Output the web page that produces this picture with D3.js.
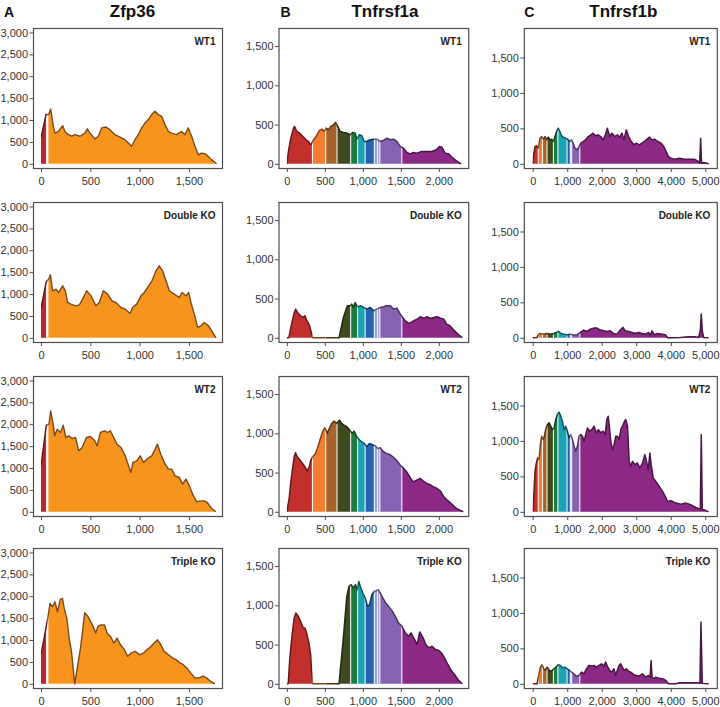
<!DOCTYPE html>
<html><head><meta charset="utf-8">
<script src="https://cdn.jsdelivr.net/npm/d3@7"></script>
<style>body{margin:0;background:#fff} svg{display:block} text{font-family:"Liberation Sans",Arial,sans-serif}</style>
</head><body><svg id="c" width="720" height="707"></svg>
<script>
// ---------- data ----------
const genes = ["Zfp36", "Tnfrsf1a", "Tnfrsf1b"];
const letters = ["A", "B", "C"];
const samples = ["WT1", "Double KO", "WT2", "Triple KO"];

const yTicksA = [0, 500, 1000, 1500, 2000, 2500, 3000];
const yTicksB = [0, 500, 1000, 1500];
const yTicksC = [0, 500, 1000, 1500];
const xTicksA = [0, 500, 1000, 1500];
const xTicksB = [0, 500, 1000, 1500, 2000];
const xTicksC = [0, 1000, 2000, 3000, 4000, 5000];

// exon boundaries (transcript position) and exon colours
const exonsA = [0, 63, 1800];
const exonColorsA = ["#b3292b", "#f7941d"];
const exonsB = [0, 337, 511, 660, 840, 932, 1030, 1151, 1195, 1224, 1513, 2400];
const exonColorsB = ["#c1302d", "#f37e2f", "#a6632b", "#3e4b1f", "#1f7b3d", "#19a3b3", "#2563b0", "#89a4d6", "#9d8dc8", "#8663b2", "#8b2984"];
const exonsC = [0, 160, 285, 415, 600, 730, 995, 1090, 1130, 1365, 5200];
const exonColorsC = ["#c1302d", "#f37e2f", "#a6632b", "#3e4b1f", "#1f7b3d", "#19a3b3", "#2563b0", "#89a4d6", "#8663b2", "#8b2984"];

// coverage profiles [position, reads]
const zfp36WT1 = [[0,590],[50,1125],[78,1125],[98,1255],[125,857],[142,700],[176,740],[220,870],[243,740],[277,665],[311,630],[345,665],[395,630],[446,700],[470,800],[497,700],[547,565],[581,630],[615,820],[659,840],[699,780],[750,665],[801,610],[851,550],[885,475],[919,400],[953,550],[986,665],[1020,820],[1054,930],[1088,1010],[1122,1125],[1155,1200],[1189,1125],[1223,1085],[1257,895],[1291,740],[1324,700],[1375,665],[1426,740],[1459,665],[1493,820],[1527,630],[1561,400],[1595,205],[1628,245],[1662,230],[1696,170],[1730,90],[1780,0]];
const zfp36DKO = [[0,678],[54,1287],[78,1340],[95,1439],[118,1074],[152,1112],[179,1036],[220,1188],[247,1074],[270,807],[304,769],[348,731],[389,754],[422,883],[463,1074],[507,959],[557,731],[591,807],[632,1074],[676,997],[720,845],[760,807],[811,693],[855,655],[902,556],[929,693],[970,769],[1014,959],[1047,1036],[1081,1150],[1125,1302],[1166,1530],[1199,1645],[1233,1530],[1267,1302],[1301,1074],[1351,997],[1402,921],[1429,1036],[1470,959],[1497,1036],[1520,807],[1554,541],[1588,236],[1622,274],[1655,350],[1699,274],[1740,122],[1774,0]];
const zfp36WT2 = [[0,1050],[54,1980],[81,2000],[98,2307],[124,2000],[138,1736],[165,1888],[198,1812],[225,1980],[252,1698],[283,1736],[316,1675],[350,1698],[383,1393],[417,1470],[461,1698],[501,1721],[545,1622],[568,1508],[602,1812],[642,1850],[676,1812],[703,1850],[737,1698],[770,1546],[811,1470],[854,1279],[888,1050],[912,899],[932,1127],[972,1165],[1006,1279],[1039,1127],[1073,1203],[1123,1279],[1157,1431],[1181,1546],[1214,1317],[1258,1089],[1292,975],[1325,975],[1359,822],[1403,784],[1436,632],[1470,746],[1504,594],[1537,404],[1578,228],[1611,251],[1652,251],[1685,213],[1729,76],[1773,0]];
const zfp36TKO = [[0,665],[50,1270],[74,1572],[91,1836],[117,1761],[141,1874],[168,1647],[195,1927],[218,1950],[235,1723],[262,1496],[285,1043],[309,741],[342,0],[403,854],[443,1625],[477,1534],[503,1421],[530,1307],[554,1156],[577,1307],[604,1345],[644,1345],[671,1156],[705,1081],[738,930],[772,1043],[805,892],[846,778],[879,627],[913,703],[956,741],[1000,665],[1040,703],[1074,778],[1114,854],[1148,930],[1181,1005],[1215,892],[1248,741],[1292,665],[1336,589],[1369,552],[1409,476],[1443,438],[1477,363],[1517,249],[1560,136],[1604,136],[1644,174],[1678,136],[1718,60],[1762,0]];

const tnfrsf1aWT1 = [[0,0],[25,180],[53,330],[88,455],[101,476],[132,412],[167,391],[211,348],[254,306],[285,285],[307,242],[329,263],[351,306],[386,348],[430,425],[461,442],[491,412],[518,455],[548,433],[579,476],[614,497],[640,527],[667,484],[702,412],[746,400],[789,391],[833,370],[868,400],[899,391],[921,314],[956,370],[987,357],[1018,285],[1053,285],[1096,306],[1140,314],[1184,314],[1228,285],[1272,297],[1316,327],[1360,306],[1404,314],[1447,285],[1491,221],[1535,200],[1579,144],[1623,127],[1667,144],[1711,136],[1776,157],[1842,157],[1908,157],[1965,178],[2009,221],[2039,212],[2083,136],[2127,127],[2171,85],[2215,51],[2259,17],[2294,0]];
const tnfrsf1aDKO = [[0,0],[26,0],[62,174],[93,302],[115,365],[150,310],[181,280],[216,259],[238,280],[260,225],[291,174],[317,89],[339,0],[687,0],[744,259],[797,408],[833,408],[855,429],[877,387],[899,450],[921,408],[943,395],[974,408],[1009,387],[1053,365],[1097,387],[1141,344],[1185,365],[1229,387],[1273,395],[1317,408],[1361,408],[1405,365],[1449,378],[1493,302],[1529,251],[1559,217],[1604,183],[1634,195],[1670,217],[1714,238],[1758,268],[1802,251],[1846,268],[1890,246],[1934,259],[1978,268],[2022,251],[2066,238],[2101,174],[2145,153],[2198,98],[2242,55],[2308,0]];
const tnfrsf1aWT2 = [[0,0],[31,170],[48,340],[75,552],[97,701],[115,752],[137,701],[172,659],[207,616],[238,574],[269,518],[295,574],[317,659],[339,701],[370,731],[401,807],[436,914],[471,1020],[502,1071],[533,999],[559,1062],[590,1126],[621,1156],[656,1126],[692,1168],[722,1126],[753,1105],[789,1083],[828,1041],[859,999],[885,1028],[921,956],[956,914],[987,892],[1018,871],[1053,829],[1088,871],[1119,858],[1163,841],[1194,807],[1229,816],[1264,773],[1308,744],[1352,731],[1396,701],[1441,659],[1485,603],[1529,561],[1577,510],[1617,446],[1661,382],[1709,404],[1753,425],[1797,391],[1841,361],[1881,348],[1925,319],[1978,297],[2022,263],[2066,191],[2110,149],[2163,106],[2220,51],[2278,21],[2322,0]];
const tnfrsf1aTKO = [[0,0],[18,0],[40,330],[70,627],[97,839],[119,902],[150,860],[181,797],[216,712],[238,712],[260,648],[291,521],[313,373],[326,161],[339,0],[687,0],[744,585],[789,1114],[819,1241],[846,1263],[877,1220],[903,1263],[930,1199],[947,1305],[974,1220],[1000,1157],[1031,1093],[1062,987],[1088,1008],[1119,1135],[1150,1178],[1176,1186],[1203,1199],[1229,1157],[1264,1093],[1300,1030],[1339,987],[1383,932],[1427,860],[1471,775],[1515,733],[1559,648],[1604,606],[1634,648],[1670,585],[1714,500],[1749,661],[1793,585],[1828,500],[1868,458],[1912,479],[1956,436],[2000,424],[2044,381],[2075,330],[2119,246],[2163,169],[2207,119],[2251,55],[2308,0]];

const tnfrsf1bWT1 = [[0,0],[19,103],[67,244],[115,254],[163,221],[212,362],[260,385],[308,348],[356,385],[404,338],[452,376],[500,338],[548,348],[596,315],[644,385],[692,456],[740,503],[788,456],[837,395],[885,376],[952,362],[1010,348],[1077,315],[1125,338],[1173,291],[1221,221],[1288,197],[1346,244],[1394,291],[1462,315],[1529,338],[1606,385],[1683,409],[1750,432],[1817,395],[1894,409],[1971,385],[2038,338],[2106,409],[2163,503],[2231,385],[2298,432],[2375,385],[2452,409],[2519,376],[2587,432],[2644,338],[2712,479],[2779,385],[2856,315],[2933,268],[3000,291],[3096,268],[3192,301],[3288,338],[3385,376],[3452,338],[3529,348],[3625,315],[3721,291],[3798,244],[3865,174],[3933,103],[4010,80],[4106,66],[4250,80],[4394,66],[4538,66],[4683,66],[4798,33],[4837,9],[4866,362],[4890,9],[4952,19],[5096,0]];
const tnfrsf1bDKO = [[0,0],[125,5],[174,52],[222,61],[319,52],[415,61],[512,52],[608,61],[685,76],[753,90],[820,61],[898,52],[994,43],[1091,52],[1187,38],[1284,43],[1380,76],[1477,109],[1573,90],[1670,123],[1766,137],[1863,137],[1959,109],[2056,99],[2152,90],[2249,99],[2346,61],[2442,52],[2539,109],[2616,147],[2683,99],[2780,90],[2876,76],[2973,61],[3069,76],[3166,61],[3263,52],[3359,76],[3407,28],[3456,99],[3523,43],[3620,61],[3745,52],[3842,43],[3909,0],[4035,0],[4276,5],[4517,14],[4710,14],[4807,5],[4855,99],[4884,336],[4913,99],[4952,5],[5097,0]];
const tnfrsf1bWT2 = [[0,0],[39,288],[68,571],[106,689],[145,759],[184,736],[222,948],[261,1066],[300,1019],[338,1066],[377,1160],[426,1231],[474,1255],[522,1208],[571,1160],[619,1184],[667,1302],[716,1373],[764,1406],[812,1349],[861,1278],[909,1160],[957,1208],[1006,1137],[1054,1042],[1103,1090],[1151,1019],[1199,925],[1248,854],[1296,925],[1344,1066],[1393,1090],[1441,1066],[1489,995],[1538,1090],[1586,1184],[1654,1137],[1712,1160],[1779,1208],[1847,1113],[1905,1160],[1973,1113],[2041,1137],[2099,1090],[2147,1302],[2186,1349],[2215,1231],[2263,995],[2311,877],[2360,948],[2408,1066],[2456,1066],[2505,1019],[2553,1160],[2602,1208],[2660,1278],[2698,1302],[2747,1208],[2795,712],[2843,642],[2892,712],[2959,665],[3037,689],[3104,618],[3182,689],[3250,807],[3298,712],[3346,594],[3395,830],[3433,665],[3491,476],[3569,429],[3665,358],[3762,288],[3839,217],[3907,146],[4004,156],[4149,123],[4294,108],[4439,123],[4584,99],[4729,61],[4826,42],[4855,28],[4884,1090],[4913,28],[4971,28],[5097,0]];
const tnfrsf1bTKO = [[0,0],[126,0],[174,118],[223,236],[271,269],[320,212],[368,189],[417,236],[484,189],[543,175],[610,212],[678,236],[736,269],[804,259],[872,222],[930,236],[998,212],[1066,189],[1124,165],[1192,142],[1260,108],[1337,118],[1415,165],[1483,142],[1550,203],[1628,259],[1705,250],[1773,259],[1841,236],[1919,259],[1996,283],[2064,250],[2112,307],[2161,250],[2229,189],[2287,165],[2355,212],[2403,118],[2452,189],[2500,259],[2548,283],[2597,236],[2645,189],[2713,212],[2791,175],[2868,156],[2936,127],[3004,118],[3081,108],[3178,142],[3275,94],[3353,118],[3401,94],[3430,330],[3459,94],[3517,71],[3566,94],[3663,80],[3760,71],[3857,47],[3934,0],[4147,0],[4244,14],[4438,14],[4632,14],[4777,14],[4845,9],[4874,873],[4913,9],[4971,5],[5097,0]];

// ---------- layout ----------
const rowTops = [28.5, 202.5, 376.5, 548.5];
const PH = 140;
const cols = [
  {gene: genes[0], letter: letters[0], letterX: 4, titleX: 132.5, x0: 33.5, x1: 222.5, xdom: [-76, 1840], ydom: [-107, 3091],
   yt: yTicksA, xt: xTicksA, bounds: exonsA, colors: exonColorsA, lineColors: ["#5e1414", "#7a4a1c"], sepW: 2.5, lw: 1.4,
   series: [zfp36WT1, zfp36DKO, zfp36WT2, zfp36TKO]},
  {gene: genes[1], letter: letters[1], letterX: 280.5, titleX: 385, x0: 279, x1: 468.7, xdom: [-103, 2393], ydom: [-60, 1724],
   yt: yTicksB, xt: xTicksB, bounds: exonsB, colors: exonColorsB, lineColors: null, sepW: 1.1, lw: 1.5,
   series: [tnfrsf1aWT1, tnfrsf1aDKO, tnfrsf1aWT2, tnfrsf1aTKO]},
  {gene: genes[2], letter: letters[2], letterX: 524.3, titleX: 623.3, x0: 524.3, x1: 717.3, xdom: [-243, 5348], ydom: [-66, 1909],
   yt: yTicksC, xt: xTicksC, bounds: exonsC, colors: exonColorsC, lineColors: null, sepW: 1.1, lw: 1.5,
   series: [tnfrsf1bWT1, tnfrsf1bDKO, tnfrsf1bWT2, tnfrsf1bTKO]}
];

const svg = d3.select("#c");
const defs = svg.append("defs");
const axisColor = "#4d4d4d";

cols.forEach((col, ci) => {
  svg.append("text").attr("x", col.letterX).attr("y", 17).attr("font-size", 14).attr("font-weight", "bold").attr("fill", "#111").text(col.letter);
  svg.append("text").attr("x", col.titleX).attr("y", 17).attr("text-anchor", "middle").attr("font-size", 17).attr("font-weight", "bold").attr("fill", "#111").text(col.gene);
  const x = d3.scaleLinear().domain(col.xdom).range([col.x0, col.x1]);
  const lineCols = col.lineColors || col.colors.map(c => d3.color(c).darker(1.8).formatHex());

  rowTops.forEach((top, ri) => {
    const y = d3.scaleLinear().domain(col.ydom).range([top + PH, top]);
    const data = col.series[ri];
    const g = svg.append("g");
    const area = d3.area().x(d => x(d[0])).y0(y(0)).y1(d => y(d[1]));
    const line = d3.line().x(d => x(d[0])).y(d => y(d[1]));
    const id = `p${ci}_${ri}`;
    defs.append("clipPath").attr("id", id + "_a").append("path").attr("d", area(data));

    col.bounds.slice(0, -1).forEach((b, k) => {
      const cid = `${id}_s${k}`;
      defs.append("clipPath").attr("id", cid).append("rect")
        .attr("x", x(b)).attr("y", top - 5).attr("width", x(col.bounds[k + 1]) - x(b)).attr("height", PH + 10);
      g.append("path").attr("d", area(data)).attr("fill", col.colors[k]).attr("clip-path", `url(#${cid})`);
    });
    const sg = g.append("g").attr("clip-path", `url(#${id}_a)`);
    col.bounds.slice(1, -1).forEach(b => {
      sg.append("line").attr("x1", x(b)).attr("x2", x(b)).attr("y1", top).attr("y2", top + PH)
        .attr("stroke", "#fff").attr("stroke-opacity", 0.9).attr("stroke-width", col.sepW);
    });
    col.bounds.slice(0, -1).forEach((b, k) => {
      g.append("path").attr("d", line(data)).attr("fill", "none").attr("stroke", lineCols[k])
        .attr("stroke-width", col.lw).attr("stroke-linejoin", "round").attr("clip-path", `url(#${id}_s${k})`);
    });

    g.append("rect").attr("x", col.x0).attr("y", top).attr("width", col.x1 - col.x0).attr("height", PH)
      .attr("fill", "none").attr("stroke", axisColor).attr("stroke-width", 1.2);

    const ya = g.append("g").attr("transform", `translate(${col.x0},0)`)
      .call(d3.axisLeft(y).tickValues(col.yt).tickSize(4).tickPadding(1.5).tickFormat(d3.format(",")));
    const xa = g.append("g").attr("transform", `translate(0,${top + PH})`)
      .call(d3.axisBottom(x).tickValues(col.xt).tickSize(3.5).tickPadding(5.5).tickFormat(d3.format(",")));
    [ya, xa].forEach(a => {
      a.select(".domain").remove();
      a.selectAll(".tick line").attr("stroke", axisColor);
      a.selectAll("text").attr("font-size", 11).attr("fill", "#333").attr("font-family", '"Liberation Sans", Arial, sans-serif');
    });

    g.append("text").attr("x", col.x1 - 7).attr("y", top + 16).attr("text-anchor", "end")
      .attr("font-size", 10).attr("font-weight", "bold").attr("fill", "#222").text(samples[ri]);
  });
});
</script></body></html>
